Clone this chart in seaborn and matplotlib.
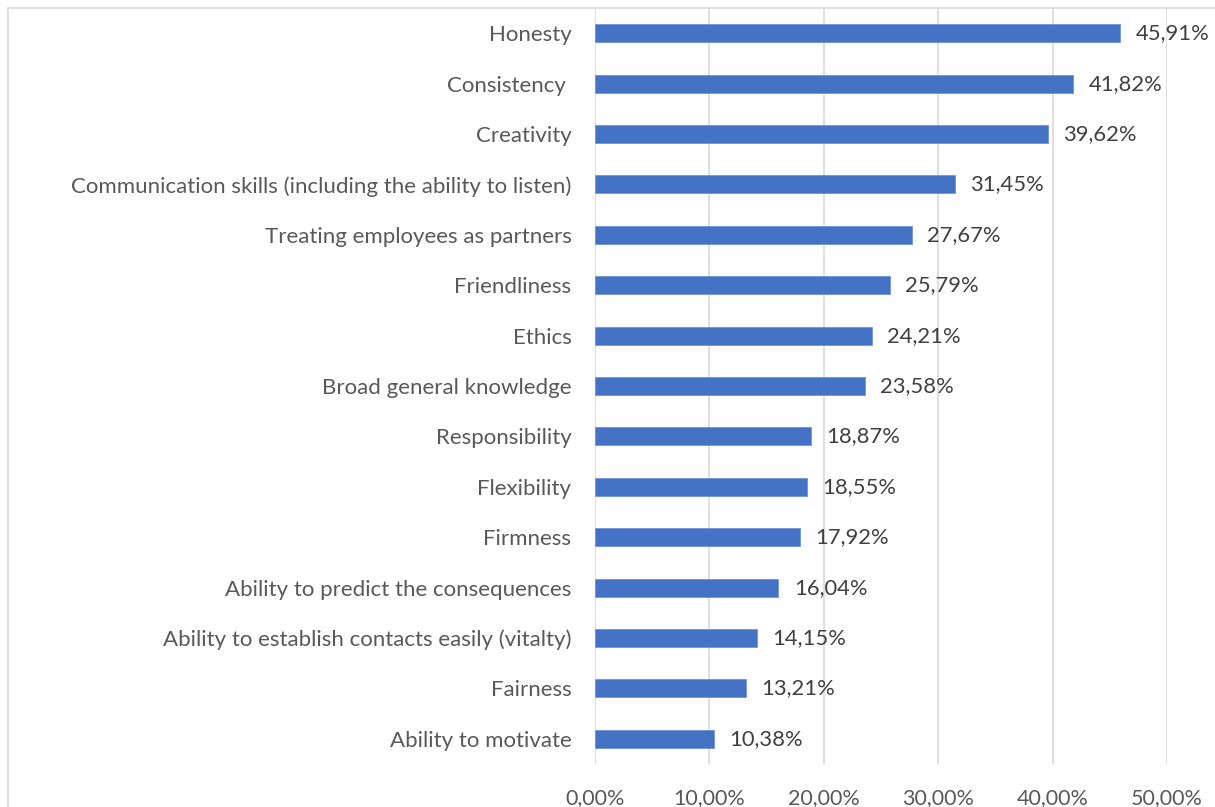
import matplotlib
matplotlib.use("Agg")
import matplotlib.pyplot as plt
from matplotlib.patches import Rectangle
import seaborn as sns
import pandas as pd

categories = [
    "Honesty",
    "Consistency ",
    "Creativity",
    "Communication skills (including the ability to listen)",
    "Treating employees as partners",
    "Friendliness",
    "Ethics",
    "Broad general knowledge",
    "Responsibility",
    "Flexibility",
    "Firmness",
    "Ability to predict the consequences",
    "Ability to establish contacts easily (vitalty)",
    "Fairness",
    "Ability to motivate",
]
values = [45.91, 41.82, 39.62, 31.45, 27.67, 25.79, 24.21, 23.58,
          18.87, 18.55, 17.92, 16.04, 14.15, 13.21, 10.38]
x_ticks = [0, 10, 20, 30, 40, 50]

df = pd.DataFrame({"trait": categories, "share": values})

sns.set_theme(style="white")
plt.rcParams["font.family"] = ["Lato", "DejaVu Sans"]

W, H = 1215, 807
fig = plt.figure(figsize=(W / 100, H / 100), dpi=100)
ax = fig.add_axes([595 / W, 1 - 764 / H, (1167 - 595) / W, (764 - 8) / H])

# outer chart-area frame (left and top edges visible)
fig.patches.append(Rectangle((8 / W, -0.1), 1.2, 1 - 8 / H + 0.1,
                             transform=fig.transFigure, fill=False,
                             edgecolor="#D9D9D9", linewidth=1.2, zorder=0))

sns.barplot(data=df, x="share", y="trait", orient="h", color="#4472C4",
            saturation=1, width=0.36, ax=ax, zorder=3,
            edgecolor="#6F93D3", linewidth=0.6)

ax.set_xlim(0, 50)
ax.set_ylim(len(categories) - 0.5, -0.5)
ax.set_xticks(x_ticks)
ax.set_xticklabels([f"{t:.2f}%".replace(".", ",") for t in x_ticks])
ax.grid(axis="x", color="#D9D9D9", linewidth=1.2, zorder=0)
ax.grid(axis="y", visible=False)
for s in ax.spines.values():
    s.set_visible(False)
ax.set_xlabel("")
ax.set_ylabel("")
ax.tick_params(axis="x", length=0, pad=17, labelsize=15.5, labelcolor="#595959")
ax.tick_params(axis="y", length=0, pad=17, labelsize=16, labelcolor="#595959")

for i, v in enumerate(values):
    ax.annotate(f"{v:.2f}%".replace(".", ","), xy=(v, i), xytext=(11, 0),
                textcoords="offset points", va="center", ha="left",
                fontsize=15.8, color="#404040")

fig.savefig("out.png", dpi=100)
